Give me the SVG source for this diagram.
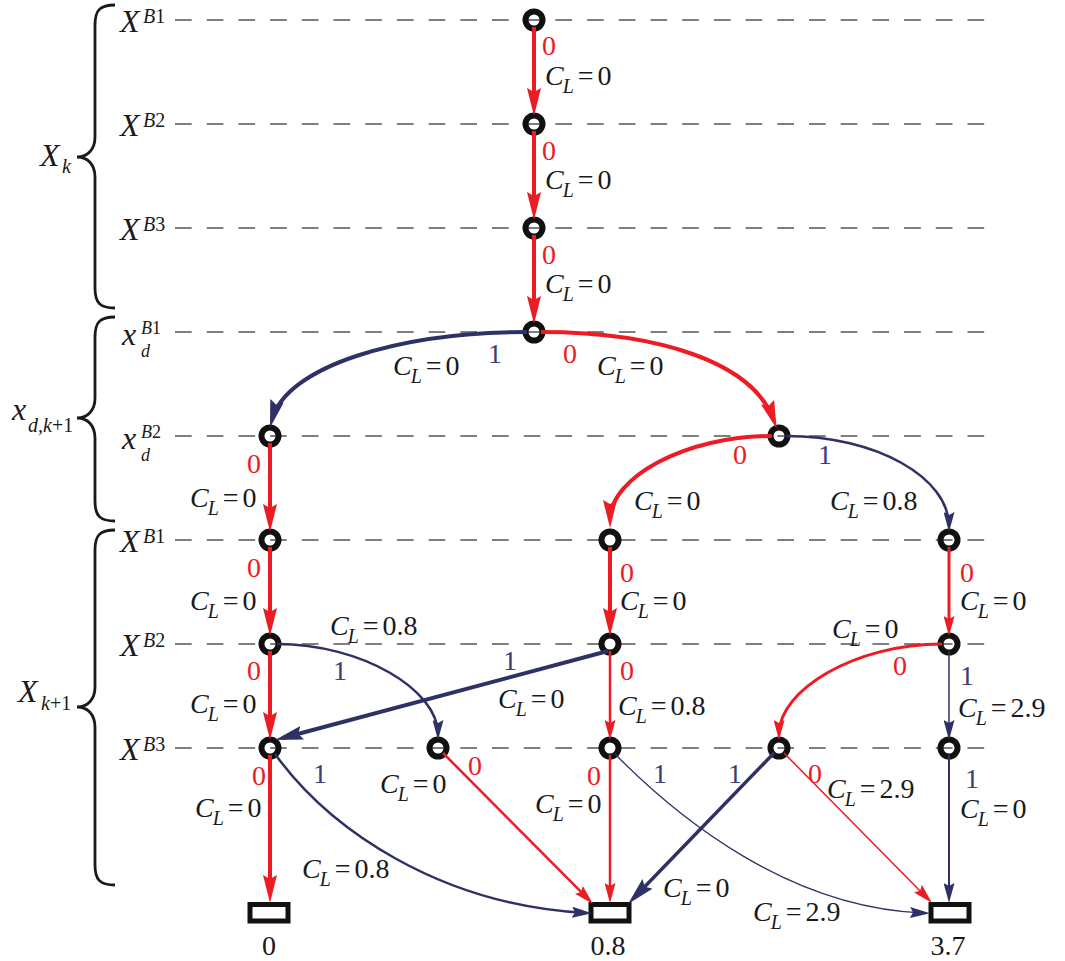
<svg xmlns="http://www.w3.org/2000/svg" width="1065" height="961" viewBox="0 0 1065 961">
<style>
.bg{fill:#fff}
.dash{stroke:#555;stroke-width:1.3;stroke-dasharray:16.7 15;fill:none}
.brace{fill:none;stroke:#1a1a1a;stroke-width:2.8}
.nd{fill:none;stroke:#111;stroke-width:6}
.term{fill:#fff;stroke:#111;stroke-width:5}
.t{font-family:"Liberation Serif","Times New Roman",serif;font-size:28px;fill:#1a1a1a}
.v{font-size:32px}
.i{font-style:italic}
.u{font-style:normal}
.s{font-size:20px}
.ss{font-size:18px}
.r{fill:#ED1C24}
.b{fill:#3B3E78}
.er{fill:none;stroke:#ED1C24}
.eb{fill:none;stroke:#2E3165}
</style>
<defs>
<marker id="rL" markerUnits="userSpaceOnUse" markerWidth="28" markerHeight="14" viewBox="0 0 28 14" refX="20" refY="7" orient="auto"><path d="M0,0 L28,7 L0,14 L4,7 z" fill="#ED1C24"/></marker>
<marker id="bL" markerUnits="userSpaceOnUse" markerWidth="28" markerHeight="14" viewBox="0 0 28 14" refX="20" refY="7" orient="auto"><path d="M0,0 L28,7 L0,14 L4,7 z" fill="#2E3165"/></marker>
<marker id="rM" markerUnits="userSpaceOnUse" markerWidth="20" markerHeight="11" viewBox="0 0 20 11" refX="14" refY="5.5" orient="auto"><path d="M0,0 L20,5.5 L0,11 L3,5.5 z" fill="#ED1C24"/></marker>
<marker id="bM" markerUnits="userSpaceOnUse" markerWidth="20" markerHeight="11" viewBox="0 0 20 11" refX="14" refY="5.5" orient="auto"><path d="M0,0 L20,5.5 L0,11 L3,5.5 z" fill="#2E3165"/></marker>
</defs>
<rect class="bg" x="0" y="0" width="1065" height="961"/>

<g id="levels">
<path class="dash" d="M175,20H985M175,124H985M175,228H985M175,332H985M175,436H985M175,540H985M175,644H985M175,748H985"/>
<path class="brace" d="M115,5 C100,5 95,10 95,25 L95,137 C95,149 88,157 77,157 C88,157 95,165 95,177 L95,288 C95,303 100,308 115,308"/>
<path class="brace" d="M115,317 C100,317 95,322 95,337 L95,398 C95,410 88,418 77,418 C88,418 95,426 95,438 L95,501 C95,516 100,521 115,521"/>
<path class="brace" d="M115,530 C100,530 95,535 95,550 L95,687 C95,699 88,707 77,707 C88,707 95,715 95,727 L95,865 C95,880 100,885 115,885"/>
<text class="t v i" x="40" y="166">X</text><text class="t s i" x="62" y="173">k</text>
<text class="t v i" x="12" y="420">x</text><text class="t s i" x="28" y="432">d,k<tspan class="u">+1</tspan></text>
<text class="t v i" x="18" y="702">X</text><text class="t s i" x="41" y="710">k<tspan class="u">+1</tspan></text>
<text class="t v i" x="120" y="32">X</text><text class="t s i" x="143" y="23">B<tspan class="u">1</tspan></text>
<text class="t v i" x="120" y="136">X</text><text class="t s i" x="143" y="127">B<tspan class="u">2</tspan></text>
<text class="t v i" x="120" y="240">X</text><text class="t s i" x="143" y="231">B<tspan class="u">3</tspan></text>
<text class="t v i" x="122" y="345">x</text><text class="t ss i" x="141" y="334">B<tspan class="u">1</tspan></text><text class="t ss i" x="141" y="357">d</text>
<text class="t v i" x="122" y="449">x</text><text class="t ss i" x="141" y="438">B<tspan class="u">2</tspan></text><text class="t ss i" x="141" y="461">d</text>
<text class="t v i" x="120" y="552">X</text><text class="t s i" x="143" y="543">B<tspan class="u">1</tspan></text>
<text class="t v i" x="120" y="656">X</text><text class="t s i" x="143" y="647">B<tspan class="u">2</tspan></text>
<text class="t v i" x="120" y="760">X</text><text class="t s i" x="143" y="751">B<tspan class="u">3</tspan></text>
</g>

<g id="n1"><circle class="nd" cx="534" cy="20" r="8.5"/></g>
<g id="n2"><circle class="nd" cx="534" cy="124" r="8.5"/></g>
<g id="n3"><circle class="nd" cx="534" cy="228" r="8.5"/></g>
<g id="n4"><circle class="nd" cx="534" cy="332" r="8.5"/></g>
<g id="n5"><circle class="nd" cx="270" cy="436" r="8.5"/></g>
<g id="n6"><circle class="nd" cx="779" cy="436" r="8.5"/></g>
<g id="n7"><circle class="nd" cx="270" cy="540" r="8.5"/></g>
<g id="n8"><circle class="nd" cx="610" cy="540" r="8.5"/></g>
<g id="n9"><circle class="nd" cx="949" cy="540" r="8.5"/></g>
<g id="n10"><circle class="nd" cx="270" cy="644" r="8.5"/></g>
<g id="n11"><circle class="nd" cx="610" cy="644" r="8.5"/></g>
<g id="n12"><circle class="nd" cx="949" cy="644" r="8.5"/></g>
<g id="n13"><circle class="nd" cx="270" cy="748" r="8.5"/></g>
<g id="n14"><circle class="nd" cx="438" cy="748" r="8.5"/></g>
<g id="n15"><circle class="nd" cx="610" cy="748" r="8.5"/></g>
<g id="n16"><circle class="nd" cx="779" cy="748" r="8.5"/></g>
<g id="n17"><circle class="nd" cx="949" cy="748" r="8.5"/></g>
<g id="t0"><rect class="term" x="250" y="904.5" width="38" height="16.5"/><text class="t" x="269" y="955" text-anchor="middle">0</text></g>
<g id="t1"><rect class="term" x="591" y="904.5" width="38" height="16.5"/><text class="t" x="608" y="955" text-anchor="middle">0.8</text></g>
<g id="t2"><rect class="term" x="931" y="904.5" width="38" height="16.5"/><text class="t" x="948" y="955" text-anchor="middle">3.7</text></g>

<g id="connectors">
<path class="er" stroke-width="4" marker-end="url(#rL)" d="M534,27 L534,108"/>
<path class="er" stroke-width="4" marker-end="url(#rL)" d="M534,131 L534,212"/>
<path class="er" stroke-width="4" marker-end="url(#rL)" d="M534,235 L534,316"/>
<path class="eb" stroke-width="4" marker-end="url(#bL)" d="M527,332 C400,332 286,366 272,420"/>
<path class="er" stroke-width="4" marker-end="url(#rL)" d="M541,332 C660,332 754,363 774,421"/>
<path class="er" stroke-width="4" marker-end="url(#rL)" d="M772,436 C684,436 610,478 610,520"/>
<path class="eb" stroke-width="2.5" marker-end="url(#bM)" d="M786,436 C877,436 949,478 949,526"/>
<path class="er" stroke-width="4" marker-end="url(#rL)" d="M270,443 L270,524"/>
<path class="er" stroke-width="4" marker-end="url(#rL)" d="M610,547 L610,628"/>
<path class="er" stroke-width="3" marker-end="url(#rM)" d="M949,547 L949,630"/>
<path class="er" stroke-width="4" marker-end="url(#rL)" d="M270,547 L270,628"/>
<path class="eb" stroke-width="2.5" marker-end="url(#bM)" d="M277,644 C362,644 438,690 438,734"/>
<path class="eb" stroke-width="4" marker-end="url(#bL)" d="M608,651 L282.8,738"/>
<path class="er" stroke-width="2.5" marker-end="url(#rM)" d="M610,651 L610,734"/>
<path class="er" stroke-width="4" marker-end="url(#rL)" d="M270,651 L270,732"/>
<path class="er" stroke-width="3" marker-end="url(#rM)" d="M942,644 C855,644 779,690 779,734"/>
<path class="eb" stroke-width="1.5" marker-end="url(#bM)" d="M949,651 L949,734"/>
<path class="er" stroke-width="4" marker-end="url(#rL)" d="M270,755 L270,895"/>
<path class="eb" stroke-width="2.5" marker-end="url(#bM)" d="M275,754 C330,830 440,905 586,913"/>
<path class="er" stroke-width="2.5" marker-end="url(#rM)" d="M443,753 L588.8,899.7"/>
<path class="er" stroke-width="2.5" marker-end="url(#rM)" d="M610,755 L610,897"/>
<path class="eb" stroke-width="3.5" marker-end="url(#bL)" d="M774,753 L633.6,898.2"/>
<path class="er" stroke-width="1.5" marker-end="url(#rM)" d="M784,753 L927.8,898.7"/>
<path class="eb" stroke-width="1.3" marker-end="url(#bM)" d="M615,754 C680,820 790,908 924,913"/>
<path class="eb" stroke-width="2" marker-end="url(#bM)" d="M949,755 L949,897"/>
</g>

<g id="labels">
<text class="t r" x="542" y="55">0</text>
<text class="t r" x="542" y="160">0</text>
<text class="t r" x="542" y="264">0</text>
<text class="t r" x="563" y="363">0</text>
<text class="t b" x="488" y="363">1</text>
<text class="t r" x="247" y="473">0</text>
<text class="t r" x="733" y="464">0</text>
<text class="t b" x="818" y="464">1</text>
<text class="t r" x="247" y="577">0</text>
<text class="t r" x="620" y="582">0</text>
<text class="t r" x="960" y="582">0</text>
<text class="t b" x="333" y="680">1</text>
<text class="t r" x="247" y="680">0</text>
<text class="t b" x="503" y="670">1</text>
<text class="t r" x="620" y="680">0</text>
<text class="t r" x="893" y="675">0</text>
<text class="t b" x="960" y="685">1</text>
<text class="t r" x="252" y="785">0</text>
<text class="t b" x="313" y="783">1</text>
<text class="t r" x="468" y="775">0</text>
<text class="t r" x="587" y="785">0</text>
<text class="t b" x="653" y="783">1</text>
<text class="t b" x="728" y="783">1</text>
<text class="t r" x="808" y="783">0</text>
<text class="t b" x="965" y="788">1</text>

<text class="t" x="545" y="85"><tspan class="i">C</tspan><tspan class="i s" dx="-1" dy="8">L</tspan><tspan dx="4" dy="-8">=</tspan><tspan dx="4">0</tspan></text>
<text class="t" x="545" y="189"><tspan class="i">C</tspan><tspan class="i s" dx="-1" dy="8">L</tspan><tspan dx="4" dy="-8">=</tspan><tspan dx="4">0</tspan></text>
<text class="t" x="545" y="293"><tspan class="i">C</tspan><tspan class="i s" dx="-1" dy="8">L</tspan><tspan dx="4" dy="-8">=</tspan><tspan dx="4">0</tspan></text>
<text class="t" x="393" y="375"><tspan class="i">C</tspan><tspan class="i s" dx="-1" dy="8">L</tspan><tspan dx="4" dy="-8">=</tspan><tspan dx="4">0</tspan></text>
<text class="t" x="597" y="375"><tspan class="i">C</tspan><tspan class="i s" dx="-1" dy="8">L</tspan><tspan dx="4" dy="-8">=</tspan><tspan dx="4">0</tspan></text>
<text class="t" x="190" y="507"><tspan class="i">C</tspan><tspan class="i s" dx="-1" dy="8">L</tspan><tspan dx="4" dy="-8">=</tspan><tspan dx="4">0</tspan></text>
<text class="t" x="634" y="510"><tspan class="i">C</tspan><tspan class="i s" dx="-1" dy="8">L</tspan><tspan dx="4" dy="-8">=</tspan><tspan dx="4">0</tspan></text>
<text class="t" x="830" y="510"><tspan class="i">C</tspan><tspan class="i s" dx="-1" dy="8">L</tspan><tspan dx="4" dy="-8">=</tspan><tspan dx="4">0.8</tspan></text>
<text class="t" x="190" y="610"><tspan class="i">C</tspan><tspan class="i s" dx="-1" dy="8">L</tspan><tspan dx="4" dy="-8">=</tspan><tspan dx="4">0</tspan></text>
<text class="t" x="620" y="610"><tspan class="i">C</tspan><tspan class="i s" dx="-1" dy="8">L</tspan><tspan dx="4" dy="-8">=</tspan><tspan dx="4">0</tspan></text>
<text class="t" x="960" y="610"><tspan class="i">C</tspan><tspan class="i s" dx="-1" dy="8">L</tspan><tspan dx="4" dy="-8">=</tspan><tspan dx="4">0</tspan></text>
<text class="t" x="330" y="635"><tspan class="i">C</tspan><tspan class="i s" dx="-1" dy="8">L</tspan><tspan dx="4" dy="-8">=</tspan><tspan dx="4">0.8</tspan></text>
<text class="t" x="190" y="713"><tspan class="i">C</tspan><tspan class="i s" dx="-1" dy="8">L</tspan><tspan dx="4" dy="-8">=</tspan><tspan dx="4">0</tspan></text>
<text class="t" x="498" y="708"><tspan class="i">C</tspan><tspan class="i s" dx="-1" dy="8">L</tspan><tspan dx="4" dy="-8">=</tspan><tspan dx="4">0</tspan></text>
<text class="t" x="618" y="715"><tspan class="i">C</tspan><tspan class="i s" dx="-1" dy="8">L</tspan><tspan dx="4" dy="-8">=</tspan><tspan dx="4">0.8</tspan></text>
<text class="t" x="832" y="638"><tspan class="i">C</tspan><tspan class="i s" dx="-1" dy="8">L</tspan><tspan dx="4" dy="-8">=</tspan><tspan dx="4">0</tspan></text>
<text class="t" x="958" y="717"><tspan class="i">C</tspan><tspan class="i s" dx="-1" dy="8">L</tspan><tspan dx="4" dy="-8">=</tspan><tspan dx="4">2.9</tspan></text>
<text class="t" x="195" y="817"><tspan class="i">C</tspan><tspan class="i s" dx="-1" dy="8">L</tspan><tspan dx="4" dy="-8">=</tspan><tspan dx="4">0</tspan></text>
<text class="t" x="380" y="793"><tspan class="i">C</tspan><tspan class="i s" dx="-1" dy="8">L</tspan><tspan dx="4" dy="-8">=</tspan><tspan dx="4">0</tspan></text>
<text class="t" x="302" y="878"><tspan class="i">C</tspan><tspan class="i s" dx="-1" dy="8">L</tspan><tspan dx="4" dy="-8">=</tspan><tspan dx="4">0.8</tspan></text>
<text class="t" x="535" y="813"><tspan class="i">C</tspan><tspan class="i s" dx="-1" dy="8">L</tspan><tspan dx="4" dy="-8">=</tspan><tspan dx="4">0</tspan></text>
<text class="t" x="827" y="798"><tspan class="i">C</tspan><tspan class="i s" dx="-1" dy="8">L</tspan><tspan dx="4" dy="-8">=</tspan><tspan dx="4">2.9</tspan></text>
<text class="t" x="960" y="818"><tspan class="i">C</tspan><tspan class="i s" dx="-1" dy="8">L</tspan><tspan dx="4" dy="-8">=</tspan><tspan dx="4">0</tspan></text>
<text class="t" x="663" y="897"><tspan class="i">C</tspan><tspan class="i s" dx="-1" dy="8">L</tspan><tspan dx="4" dy="-8">=</tspan><tspan dx="4">0</tspan></text>
<text class="t" x="753" y="921"><tspan class="i">C</tspan><tspan class="i s" dx="-1" dy="8">L</tspan><tspan dx="4" dy="-8">=</tspan><tspan dx="4">2.9</tspan></text>
</g>
</svg>
